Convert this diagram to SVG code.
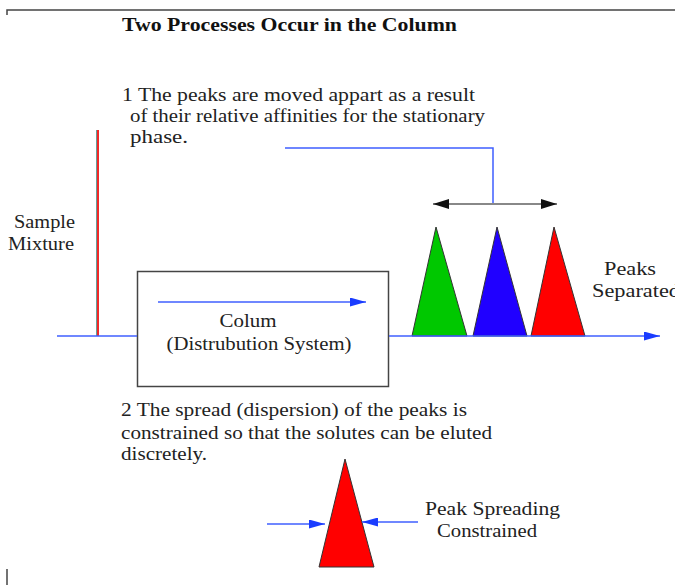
<svg xmlns="http://www.w3.org/2000/svg" width="675" height="585" viewBox="0 0 675 585">
<style>
text{font-family:"Liberation Serif","Times New Roman",serif;fill:#222;font-size:18px}
.title{font-weight:bold;fill:#111;font-size:19px}
.blue{stroke:#3f5fff;stroke-width:1.5;fill:none}
.tri{stroke:#333;stroke-width:1}
</style>
<defs>
<marker id="ab" markerUnits="userSpaceOnUse" markerWidth="16" markerHeight="9" refX="16" refY="4.5" orient="auto"><path d="M0,0 L16,4.5 L0,9 z" fill="#1a3cff"/></marker>
<marker id="ak" markerUnits="userSpaceOnUse" markerWidth="16" markerHeight="10" refX="16" refY="5" orient="auto-start-reverse"><path d="M0,0 L16,5 L0,10 z" fill="#111"/></marker>
</defs>
<rect width="675" height="585" fill="#fff"/>
<g id="frame" stroke="#444" stroke-width="1.5" fill="none">
<path d="M7,15 V10 H675"/>
<path d="M7,569 V585"/>
</g>
<g id="title"><text class="title" x="122" y="31" textLength="335" lengthAdjust="spacingAndGlyphs">Two Processes Occur in the Column</text></g>
<g id="note1">
<text x="122" y="101" textLength="353" lengthAdjust="spacingAndGlyphs">1 The peaks are moved appart as a result</text>
<text x="130" y="122" textLength="355" lengthAdjust="spacingAndGlyphs">of their relative affinities for the stationary</text>
<text x="130" y="143" textLength="58" lengthAdjust="spacingAndGlyphs">phase.</text>
</g>
<g id="sample">
<line x1="96.6" y1="130" x2="96.6" y2="336" stroke="#2a7a72" stroke-width="0.8"/>
<line x1="98" y1="130" x2="98" y2="336" stroke="#f02828" stroke-width="2"/>
<text x="14" y="228" textLength="61" lengthAdjust="spacingAndGlyphs">Sample</text>
<text x="8" y="250" textLength="66" lengthAdjust="spacingAndGlyphs">Mixture</text>
</g>
<g id="column">
<rect x="137.5" y="271.5" width="251" height="115" fill="#fff" stroke="#444" stroke-width="1.5"/>
<text x="248" y="327" text-anchor="middle" textLength="57" lengthAdjust="spacingAndGlyphs">Colum</text>
<text x="259" y="350" text-anchor="middle" textLength="185" lengthAdjust="spacingAndGlyphs">(Distrubution System)</text>
</g>
<g id="peaks">
<polygon class="tri" points="412,336 436,227 467,336" fill="#00c800"/>
<polygon class="tri" points="473,336 497,227 527,336" fill="#2000ff"/>
<polygon class="tri" points="531,336 554,227 585,336" fill="#ff0000"/>
<text x="604" y="275" textLength="52" lengthAdjust="spacingAndGlyphs">Peaks</text>
<text x="592" y="297" textLength="88" lengthAdjust="spacingAndGlyphs">Separated</text>
</g>
<g id="note2">
<text x="121" y="416" textLength="346" lengthAdjust="spacingAndGlyphs">2 The spread (dispersion) of the peaks is</text>
<text x="121" y="439" textLength="371" lengthAdjust="spacingAndGlyphs">constrained so that the solutes can be eluted</text>
<text x="121" y="460" textLength="86" lengthAdjust="spacingAndGlyphs">discretely.</text>
</g>
<g id="constrained-peak">
<polygon class="tri" points="319,567 345,459 374,567" fill="#ff0000"/>
<text x="425" y="515" textLength="135" lengthAdjust="spacingAndGlyphs">Peak Spreading</text>
<text x="437" y="537" textLength="100" lengthAdjust="spacingAndGlyphs">Constrained</text>
</g>
<g id="connectors">
<line class="blue" x1="57" y1="336" x2="137" y2="336"/>
<line class="blue" x1="389" y1="336" x2="660" y2="336" marker-end="url(#ab)"/>
<line class="blue" x1="158" y1="302" x2="366" y2="302" marker-end="url(#ab)"/>
<polyline class="blue" points="285,148 493,148 493,204"/>
<line x1="433" y1="204" x2="557" y2="204" stroke="#888" stroke-width="2" marker-start="url(#ak)" marker-end="url(#ak)"/>
<line class="blue" x1="267" y1="524" x2="325" y2="524" marker-end="url(#ab)"/>
<line class="blue" x1="418" y1="522" x2="362" y2="522" marker-end="url(#ab)"/>
</g>
</svg>
